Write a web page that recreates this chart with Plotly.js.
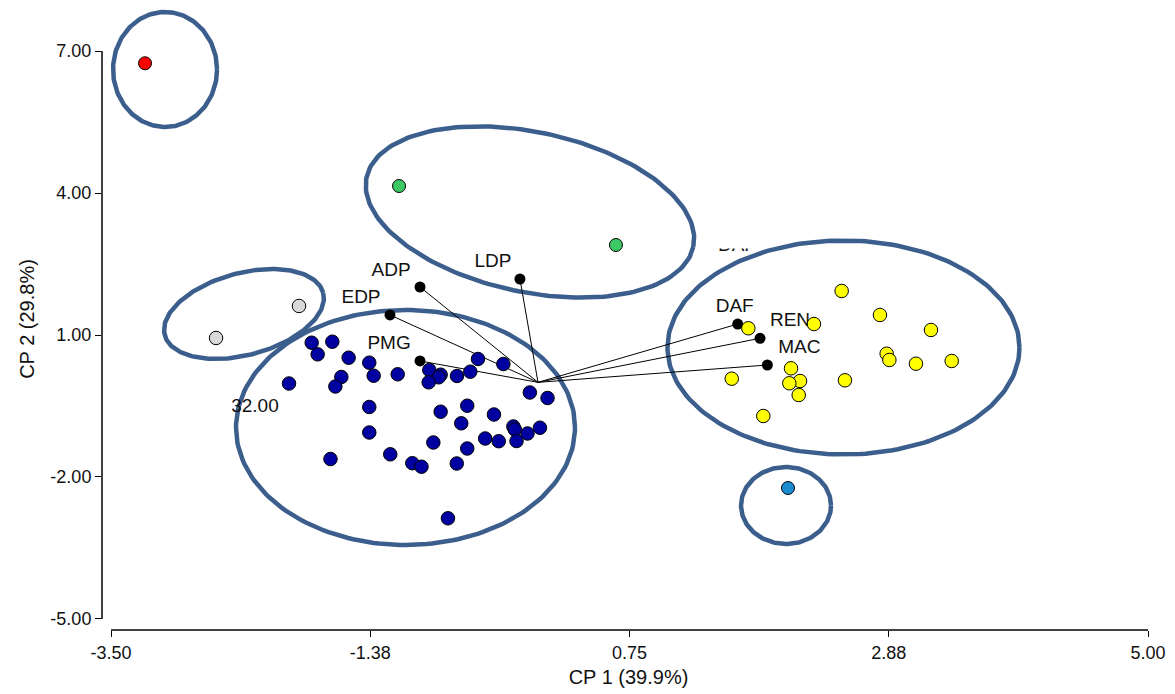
<!DOCTYPE html>
<html>
<head>
<meta charset="utf-8">
<script src="https://cdn.plot.ly/plotly-3.0.1.min.js"></script>
<style>html,body{margin:0;padding:0;background:#fff;}#chart{width:1175px;height:694px;}</style>
</head>
<body>
<div id="chart"></div>
<script>
// ---------------- DATA ----------------
const xTickVals = [-3.5, -1.375, 0.75, 2.875, 5];
const xTickText = ['-3.50', '-1.38', '0.75', '2.88', '5.00'];
const yTickVals = [-5, -2, 1, 4, 7];
const yTickText = ['-5.00', '-2.00', '1.00', '4.00', '7.00'];

const blueX = [-1.855,-1.686,-1.806,-1.552,-1.383,-2.041,-1.612,-1.661,-1.347,-1.150,-1.383,-1.383,-1.701,-1.211,-1.030,-0.955,-0.492,-0.284,-0.891,-0.798,-0.814,-0.896,-0.664,-0.555,-0.067,0.078,-0.798,-0.580,-0.361,-0.629,-0.202,-0.190,-0.086,0.016,-0.176,-0.322,-0.433,-0.580,-0.858,-0.666,-0.738];
const blueY = [0.837,0.858,0.592,0.520,0.415,-0.025,0.113,-0.088,0.140,0.170,-0.521,-1.060,-1.620,-1.521,-1.709,-1.783,0.493,0.387,0.261,0.161,0.106,0.000,0.134,0.225,-0.215,-0.331,-0.621,-0.494,-0.680,-0.866,-0.933,-0.997,-1.081,-0.959,-1.240,-1.244,-1.187,-1.398,-1.271,-1.715,-2.873];

const yellowX = [2.489,2.803,3.221,2.262,1.724,2.858,2.880,3.098,3.391,2.074,2.148,2.060,2.137,2.516,1.588,1.847];
const yellowY = [1.930,1.423,1.106,1.232,1.142,0.605,0.472,0.394,0.451,0.296,0.028,-0.020,-0.268,0.043,0.077,-0.711];

const greenX = [-1.139, 0.639];
const greenY = [4.148, 2.902];
const greyX = [-2.639, -1.959];
const greyY = [0.937, 1.613];
const redX = [-3.221];
const redY = [6.741];
const tealX = [2.049];
const tealY = [-2.233];

const vecNames = ['ADP','LDP','EDP','PMG','DAF','REN','MAC'];
const vecX = [-0.967,-0.148,-1.213,-0.967,1.637,1.820,1.880];
const vecY = [2.014,2.183,1.423,0.451,1.232,0.930,0.366];
const originX = 0, originY = 0;

const extraText = ['32.00', 'DAF'];
const extraX = [-2.320, 1.631];
const extraY = [-0.521, 2.880];

// group ellipses: centre (data), semi-axes (px), rotation (deg)
const ellCX = [-3.057, -0.066, -2.410, -1.086, 2.504, 2.033];
const ellCY = [6.610, 3.599, 1.444, -0.954, 0.736, -2.602];
const ellA  = [52, 167, 82, 169.5, 176, 45];
const ellB  = [57.5, 80, 41, 117.5, 107, 38.5];
const ellRot = [0, -12, 15, 0, 0, 0];

// ---------------- STYLE / LAYOUT ----------------
const M = {l: 102, r: 20, t: 8, b: 64};
const W = 1175, H = 694;
const XR = [-3.5738, 5.0574];
const YR = [-5.233, 7.909];
const pxX = (W - M.l - M.r) / (XR[1] - XR[0]);
const pxY = (H - M.t - M.b) / (YR[1] - YR[0]);
const labelShift = [[-29,16],[-27,17],[-29,17],[-31,17],[-3,17],[30,17],[32,17]];
const FONT = 'Liberation Sans, Arial, sans-serif';
const ELL_COLOR = '#3b5e8d';

const traces = [];

// ellipses
for (let i = 0; i < ellCX.length; i++) {
  const xs = [], ys = [];
  const th = ellRot[i] * Math.PI / 180;
  for (let k = 0; k <= 200; k++) {
    const t = 2 * Math.PI * k / 200;
    const ex = ellA[i] * Math.cos(t), ey = ellB[i] * Math.sin(t);
    const rx = ex * Math.cos(th) - ey * Math.sin(th);
    const ry = ex * Math.sin(th) + ey * Math.cos(th);
    xs.push(ellCX[i] + rx / pxX);
    ys.push(ellCY[i] + ry / pxY);
  }
  traces.push({x: xs, y: ys, mode: 'lines', line: {color: ELL_COLOR, width: 4.5}, hoverinfo: 'skip', cliponaxis: false});
}

// vectors
for (let i = 0; i < vecNames.length; i++) {
  traces.push({x: [originX, vecX[i]], y: [originY, vecY[i]], mode: 'lines',
    line: {color: '#000', width: 1}, hoverinfo: 'skip'});
}
traces.push({x: vecX, y: vecY, mode: 'markers', marker: {size: 11, color: '#000'}, hoverinfo: 'skip'});

// vector labels
traces.push({
  x: vecX.map((v, i) => v + labelShift[i][0] / pxX),
  y: vecY.map((v, i) => v + labelShift[i][1] / pxY),
  text: vecNames, mode: 'text', textposition: 'middle center',
  textfont: {family: FONT, size: 19, color: '#111'}, hoverinfo: 'skip', cliponaxis: false
});
traces.push({x: extraX, y: extraY, text: extraText, mode: 'text', textposition: 'middle center',
  textfont: {family: FONT, size: 19, color: '#111'}, hoverinfo: 'skip', cliponaxis: false});

function pts(x, y, color, size) {
  return {x: x, y: y, mode: 'markers', hoverinfo: 'x+y',
    marker: {size: size, color: color, line: {color: '#000', width: 1}}, cliponaxis: false};
}
traces.push(pts(blueX, blueY, '#0000a0', 13.5));
traces.push(pts(yellowX, yellowY, '#ffff00', 13.5));
traces.push(pts(greenX, greenY, '#3cc864', 13));
traces.push(pts(greyX, greyY, '#d9d9d9', 13.5));
traces.push(pts(redX, redY, '#ff0000', 13));
traces.push(pts(tealX, tealY, '#1b8ccf', 13));

const fx = v => (v - XR[0]) / (XR[1] - XR[0]);
const fy = v => (v - YR[0]) / (YR[1] - YR[0]);

const layout = {
  width: W, height: H,
  margin: M,
  paper_bgcolor: '#fff', plot_bgcolor: '#fff',
  showlegend: false,
  font: {family: FONT, color: '#111'},
  xaxis: {
    range: XR, showgrid: false, zeroline: false, showline: false,
    tickvals: xTickVals, ticktext: xTickText, ticks: 'outside', ticklen: 6, tickwidth: 1, tickcolor: '#000',
    tickfont: {family: FONT, size: 18, color: '#111'},
    title: {text: 'CP 1 (39.9%)', font: {family: FONT, size: 20, color: '#111'}, standoff: 8}
  },
  yaxis: {
    range: YR, showgrid: false, zeroline: false, showline: false,
    tickvals: yTickVals, ticktext: yTickText, ticks: 'outside', ticklen: 6, tickwidth: 1, tickcolor: '#000',
    tickfont: {family: FONT, size: 18, color: '#111'},
    title: {text: 'CP 2 (29.8%)', font: {family: FONT, size: 20, color: '#111'}, standoff: 10}
  },
  shapes: [
    {type: 'line', xref: 'paper', yref: 'paper', x0: 0, x1: 0, y0: fy(yTickVals[0]), y1: fy(yTickVals[yTickVals.length-1]),
      line: {color: '#000', width: 1.5}},
    {type: 'line', xref: 'paper', yref: 'paper', y0: 0, y1: 0, x0: fx(xTickVals[0]), x1: fx(xTickVals[xTickVals.length-1]),
      line: {color: '#000', width: 1.5}},
    // white mask hiding most of the stray label
    {type: 'rect', layer: 'above', xref: 'x', yref: 'y', x0: extraX[1] - 25 / pxX, x1: extraX[1] + 23 / pxX,
      y0: extraY[1] - 2.5 / pxY, y1: extraY[1] + 22 / pxY, fillcolor: '#fff', line: {width: 0}}
  ]
};

Plotly.newPlot('chart', traces, layout, {displayModeBar: false, staticPlot: true});
</script>
</body>
</html>
